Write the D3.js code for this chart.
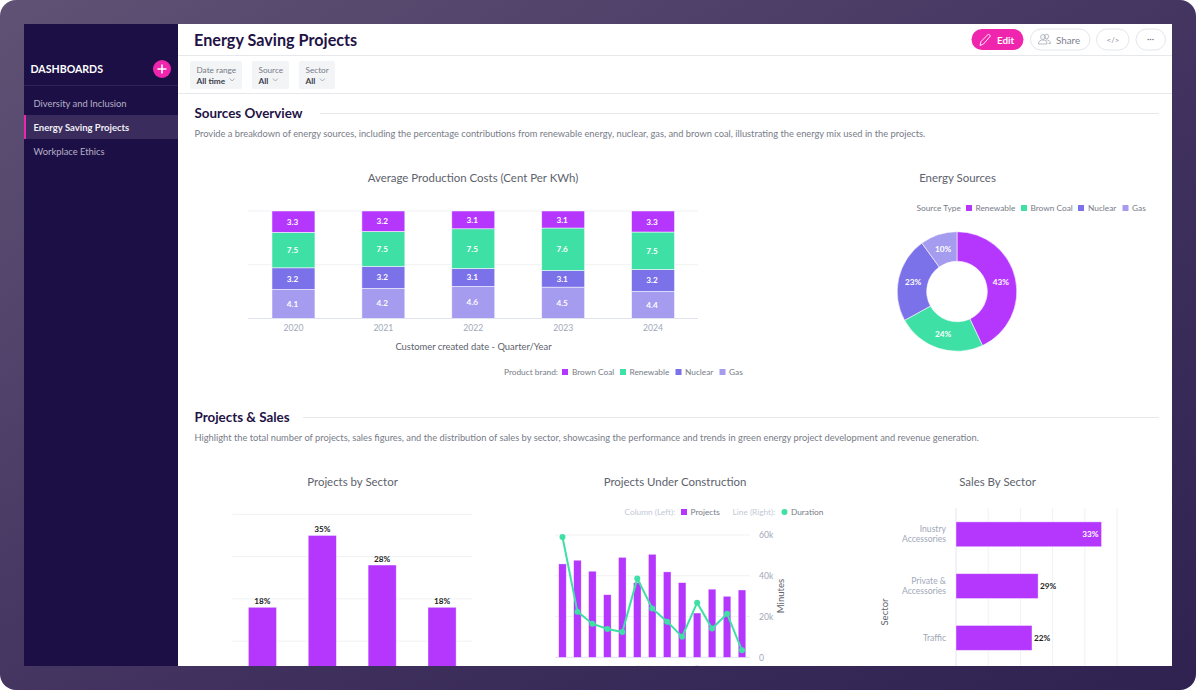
<!DOCTYPE html>
<html>
<head>
<meta charset="utf-8">
<title>Energy Saving Projects</title>
<script src="https://cdnjs.cloudflare.com/ajax/libs/d3/7.8.5/d3.min.js"></script>
<style>
html,body{margin:0;padding:0;background:#fff;}
svg{display:block;}
text{font-family:Lato,"Open Sans",sans-serif;}
</style>
</head>
<body>
<svg id="chart" width="1196" height="690"></svg>
<script>
// stacked costs: heights are share of the column, labels are what the segments print
var years = ['2020','2021','2022','2023','2024'];
var costKeys = ['gas','nuclear','renewable','brown'];
var gasShare = [26.9,28,29.8,29.1,25.1];
var nuclearShare = [20.1,20.5,16.7,15.5,20.4];
var renewableShare = [32.8,32.5,36.9,39.4,34.7];
var brownShare = [19.8,19,16.5,15.8,19.5];
var gasLabels = ['4.1','4.2','4.6','4.5','4.4'];
var nuclearLabels = ['3.2','3.2','3.1','3.1','3.2'];
var renewableLabels = ['7.5','7.5','7.5','7.6','7.5'];
var brownLabels = ['3.3','3.2','3.1','3.1','3.3'];

var sourceNames = ['Renewable','Brown Coal','Nuclear','Gas'];
var sourceValues = [43,24,23,10];

var sectorNames = ['A','B','C','D'];
var sectorValues = [18,35,28,18];
var sectorTicks = [10,20,30,40];

var buildIndex = ['1','2','3','4','5','6','7','8','9','10','11','12','13'];
var buildProjects = [45.8,47.6,42.2,30.7,49,36.6,50.5,41.9,36.6,21.7,33.4,29.9,33];
var buildDuration = [59,22.4,16.5,13.9,12.4,38.6,24,17.5,10.1,26.8,14.1,21.4,3.4];
var durationTicks = [0,20,40,60];

var salesNames = [['Inustry','Accessories'],['Private &','Accessories'],['Traffic']];
var salesValues = [45.2,25.5,23.6];
var salesLabels = ['33%','29%','22%'];
var salesTicks = [0,10,20,30,40,50];

var PURPLE = '#b537fe', GREEN = '#3ee0a5', NUCLEAR = '#7b71e8', GAS = '#a59bef';
var INK = '#1f1346', GREY = '#5d626d', SOFT = '#777c88', AXIS = '#a0a8b8';

var svg = d3.select('#chart');
var defs = svg.append('defs');

// frame
var grad = defs.append('linearGradient').attr('id','frame')
	.attr('x1','0').attr('y1','0').attr('x2','1').attr('y2','1');
grad.append('stop').attr('offset','0').attr('stop-color','#5f5274');
grad.append('stop').attr('offset','0.55').attr('stop-color','#41325f');
grad.append('stop').attr('offset','1').attr('stop-color','#2f2250');
svg.append('rect').attr('width',1196).attr('height',690).attr('rx',16).attr('fill','url(#frame)');

defs.append('clipPath').attr('id','panel').append('rect')
	.attr('x',178).attr('y',24).attr('width',994).attr('height',642);

// sidebar
svg.append('rect').attr('x',24).attr('y',24).attr('width',154).attr('height',642).attr('fill','#1c0f45');
svg.append('text').attr('x',30.5).attr('y',73).attr('fill','#fff').attr('font-size',10.6).attr('font-weight',700).text('DASHBOARDS');
svg.append('circle').attr('cx',162).attr('cy',69).attr('r',9).attr('fill','#f025ae');
svg.append('path').attr('d','M157.5 69H166.5M162 64.5V73.5').attr('stroke','#fff').attr('stroke-width',1.6);
svg.append('line').attr('x1',24).attr('x2',178).attr('y1',85.5).attr('y2',85.5).attr('stroke','#2f2357');
svg.append('rect').attr('x',24).attr('y',115).attr('width',154).attr('height',24).attr('fill','#3a2c5c');
svg.append('rect').attr('x',24).attr('y',115).attr('width',2).attr('height',24).attr('fill','#f025ae');
svg.append('text').attr('x',33.5).attr('y',107).attr('fill','#b5afc6').attr('font-size',9.4).text('Diversity and Inclusion');
svg.append('text').attr('x',33.5).attr('y',131).attr('fill','#f1eff6').attr('font-size',9.5).attr('font-weight',700).text('Energy Saving Projects');
svg.append('text').attr('x',33.5).attr('y',155).attr('fill','#b5afc6').attr('font-size',9.4).text('Workplace Ethics');

// main panel, everything below the card edge gets cut off
var main = svg.append('g').attr('clip-path','url(#panel)');
main.append('rect').attr('x',178).attr('y',24).attr('width',994).attr('height',642).attr('fill','#fff');
main.append('text').attr('x',194).attr('y',46).attr('fill',INK).attr('font-size',16.2).attr('font-weight',700).text('Energy Saving Projects');
main.append('line').attr('x1',178).attr('x2',1172).attr('y1',55.5).attr('y2',55.5).attr('stroke','#e6e8ec');
main.append('line').attr('x1',178).attr('x2',1172).attr('y1',93.5).attr('y2',93.5).attr('stroke','#e6e8ec');

// header buttons
main.append('rect').attr('x',971.5).attr('y',29).attr('width',52).attr('height',21).attr('rx',10.5).attr('fill','#f025ae');
main.append('path').attr('d','M980 45.5L981 41.5L988.5 34L990.5 36L983.5 44Z').attr('fill','none').attr('stroke','#fff').attr('stroke-width',0.9);
main.append('text').attr('x',997).attr('y',44).attr('fill','#fff').attr('font-size',9.8).attr('font-weight',700).text('Edit');
[[1030.5,59.5],[1096.5,32.5],[1136,29.5]].forEach(function(b){
	main.append('rect').attr('x',b[0]).attr('y',29).attr('width',b[1]).attr('height',21).attr('rx',10.5)
		.attr('fill','#fff').attr('stroke','#e3e6eb');
});
main.append('text').attr('x',1056).attr('y',44).attr('fill','#7d8290').attr('font-size',9.8).text('Share');
main.append('path').attr('d','M1038.5 44C1038.5 41 1040.5 40 1043 40C1045.5 40 1047 41 1047 44ZM1046 39.8C1048.5 40 1050.5 41 1050.5 43.5H1048.5').attr('fill','none').attr('stroke','#a4a9b5').attr('stroke-width',0.8);
main.append('circle').attr('cx',1043).attr('cy',37).attr('r',2.4).attr('fill','none').attr('stroke','#a4a9b5').attr('stroke-width',0.8);
main.append('circle').attr('cx',1046.5).attr('cy',36.5).attr('r',2.2).attr('fill','none').attr('stroke','#a4a9b5').attr('stroke-width',0.8);
main.append('text').attr('x',1113).attr('y',43).attr('text-anchor','middle').attr('fill','#8a8f9c').attr('font-size',8).text('</>');
main.append('text').attr('x',1150.5).attr('y',42).attr('text-anchor','middle').attr('fill','#6f7480').attr('font-size',9).text('···');

// filter chips
var chips = [['Date range','All time',190,52],['Source','All',252,37],['Sector','All',299,36]];
chips.forEach(function(c){
	main.append('rect').attr('x',c[2]).attr('y',61).attr('width',c[3]).attr('height',28).attr('rx',2).attr('fill','#f3f4f6');
	main.append('text').attr('x',c[2]+6.5).attr('y',73).attr('fill','#777c88').attr('font-size',8.2).text(c[0]);
	var t = main.append('text').attr('x',c[2]+6.5).attr('y',83.5).attr('fill','#3c3f4c').attr('font-size',8.3).attr('font-weight',700).text(c[1]);
	var w = t.node().getComputedTextLength();
	var cx = c[2]+6.5+w+7;
	main.append('path').attr('d','M'+(cx-2.5)+' 78.5L'+cx+' 81L'+(cx+2.5)+' 78.5').attr('fill','none').attr('stroke','#8a8f9c').attr('stroke-width',0.7);
});

// section heads
function sectionHead(title,desc,y,lineX){
	main.append('text').attr('x',194.5).attr('y',y+5).attr('fill',INK).attr('font-size',13.4).attr('font-weight',700).text(title);
	main.append('line').attr('x1',lineX).attr('x2',1159).attr('y1',y+.5).attr('y2',y+.5).attr('stroke','#e6e8ec');
	main.append('text').attr('x',194.5).attr('y',y+23.5).attr('fill',SOFT).attr('font-size',9.3).text(desc);
}
sectionHead('Sources Overview','Provide a breakdown of energy sources, including the percentage contributions from renewable energy, nuclear, gas, and brown coal, illustrating the energy mix used in the projects.',113,320);
sectionHead('Projects & Sales','Highlight the total number of projects, sales figures, and the distribution of sales by sector, showcasing the performance and trends in green energy project development and revenue generation.',417,303);

function chartTitle(s,x,y){
	main.append('text').attr('x',x).attr('y',y).attr('text-anchor','middle').attr('fill',GREY).attr('font-size',11.45).text(s);
}
chartTitle('Average Production Costs (Cent Per KWh)',473,182);
chartTitle('Energy Sources',957.5,182);
chartTitle('Projects by Sector',352.5,486);
chartTitle('Projects Under Construction',675,486);
chartTitle('Sales By Sector',997.5,486);

function legendText(s,x,y,col){
	main.append('text').attr('x',x).attr('y',y+3).attr('fill',col||SOFT).attr('font-size',8.3).text(s);
}
function swatch(x,y,col){
	main.append('rect').attr('x',x).attr('y',y-3).attr('width',6).attr('height',6).attr('fill',col);
}

// ---- stacked columns
var costRows = years.map(function(y,i){
	return {year:y,gas:gasShare[i],nuclear:nuclearShare[i],renewable:renewableShare[i],brown:brownShare[i]};
});
var costLabels = {gas:gasLabels,nuclear:nuclearLabels,renewable:renewableLabels,brown:brownLabels};
var costColors = {gas:GAS,nuclear:NUCLEAR,renewable:GREEN,brown:PURPLE};
var costX = d3.scaleBand().domain(years).range([248.5,698]).paddingInner(0.522).paddingOuter(0.261);
var costY = d3.scaleLinear().domain([0,100]).range([318.5,211]);
main.append('g').selectAll('line').data([50,100]).join('line')
	.attr('x1',248).attr('x2',698)
	.attr('y1',function(d){return costY(d);}).attr('y2',function(d){return costY(d);})
	.attr('stroke','#f0f1f4');
var stack = d3.stack().keys(costKeys).offset(d3.stackOffsetExpand)(costRows);
stack.forEach(function(layer){
	var g = main.append('g');
	layer.forEach(function(d,i){
		var y0 = costY(d[0]*100), y1 = costY(d[1]*100);
		g.append('rect').attr('x',costX(years[i])).attr('y',y1).attr('width',costX.bandwidth()).attr('height',y0-y1)
			.attr('fill',costColors[layer.key]).attr('stroke','#fff').attr('stroke-opacity',0.65).attr('stroke-width',0.8);
		g.append('text').attr('x',costX(years[i])+costX.bandwidth()/2-1).attr('y',(y0+y1)/2+3)
			.attr('text-anchor','middle').attr('fill','#fff').attr('font-size',8.2).attr('font-weight',700)
			.text(costLabels[layer.key][i]);
	});
});
var costAxis = main.append('g').attr('transform','translate(0,318.5)')
	.call(d3.axisBottom(costX).tickSize(0).tickPadding(6));
costAxis.select('.domain').attr('stroke','#dfe3f0').attr('d','M248,0H698');
costAxis.selectAll('text').attr('fill',AXIS).attr('font-size',8.6).attr('font-family','Lato');
main.append('text').attr('x',473.5).attr('y',349.5).attr('text-anchor','middle').attr('fill',GREY).attr('font-size',9.4).text('Customer created date - Quarter/Year');

legendText('Product brand:',504,372);
swatch(562,372,PURPLE); legendText('Brown Coal',572,372);
swatch(620,372,GREEN); legendText('Renewable',629.5,372);
swatch(675.5,372,NUCLEAR); legendText('Nuclear',685,372);
swatch(719.5,372,GAS); legendText('Gas',729,372);

// ---- donut
var donutColors = d3.scaleOrdinal().domain(sourceNames).range([PURPLE,GREEN,NUCLEAR,GAS]);
var pie = d3.pie().sort(null)(sourceValues);
var arc = d3.arc().innerRadius(30.3).outerRadius(59.8);
var labelArc = d3.arc().innerRadius(45).outerRadius(45);
var donut = main.append('g').attr('transform','translate(957,291.5)');
donut.selectAll('path').data(pie).join('path')
	.attr('d',arc)
	.attr('fill',function(d,i){return donutColors(sourceNames[i]);})
	.attr('stroke','#fff').attr('stroke-opacity',0.7).attr('stroke-width',0.8);
donut.selectAll('text').data(pie).join('text')
	.attr('transform',function(d){return 'translate('+labelArc.centroid(d)+')';})
	.attr('y',3).attr('text-anchor','middle').attr('fill','#fff').attr('font-size',8.2).attr('font-weight',700)
	.text(function(d){return d.value+'%';});

legendText('Source Type',916.5,208);
swatch(966,208,PURPLE); legendText('Renewable',975.5,208);
swatch(1021,208,GREEN); legendText('Brown Coal',1030.5,208);
swatch(1078,208,NUCLEAR); legendText('Nuclear',1088,208);
swatch(1122.5,208,GAS); legendText('Gas',1132,208);

// ---- projects by sector
var secX = d3.scaleBand().domain(sectorNames).range([232.5,472]).paddingInner(0.53).paddingOuter(0.265);
var secY = d3.scaleLinear().domain([0,40]).range([683.4,514.3]);
main.append('g').selectAll('line').data(sectorTicks).join('line')
	.attr('x1',232.5).attr('x2',472)
	.attr('y1',function(d){return secY(d);}).attr('y2',function(d){return secY(d);})
	.attr('stroke','#f0f1f4');
main.append('g').selectAll('rect').data(sectorValues).join('rect')
	.attr('x',function(d,i){return secX(sectorNames[i]);})
	.attr('y',function(d){return secY(d);})
	.attr('width',secX.bandwidth())
	.attr('height',function(d){return secY(0)-secY(d);})
	.attr('fill',PURPLE).attr('stroke','#fff').attr('stroke-opacity',0.5).attr('stroke-width',0.8);
main.append('g').selectAll('text').data(sectorValues).join('text')
	.attr('x',function(d,i){return secX(sectorNames[i])+secX.bandwidth()/2;})
	.attr('y',function(d){return secY(d)-3;})
	.attr('text-anchor','middle').attr('fill','#222').attr('font-size',8.2).attr('font-weight',700)
	.text(function(d){return d+'%';});

// ---- projects under construction
var buildX = d3.scaleBand().domain(buildIndex).range([555,749.5]).paddingInner(0.5).paddingOuter(0.25);
var buildY = d3.scaleLinear().domain([0,60]).range([657.3,535]);
main.append('g').selectAll('line').data(durationTicks).join('line')
	.attr('x1',555).attr('x2',750)
	.attr('y1',function(d){return buildY(d);}).attr('y2',function(d){return buildY(d);})
	.attr('stroke',function(d){return d==0?'#dfe3f0':'#f0f1f4';});
main.append('g').selectAll('rect').data(buildProjects).join('rect')
	.attr('x',function(d,i){return buildX(buildIndex[i]);})
	.attr('y',function(d){return buildY(d);})
	.attr('width',buildX.bandwidth())
	.attr('height',function(d){return buildY(0)-buildY(d);})
	.attr('fill',PURPLE).attr('stroke','#fff').attr('stroke-opacity',0.5).attr('stroke-width',0.6);
var durationLine = d3.line()
	.x(function(d,i){return buildX(buildIndex[i])+buildX.bandwidth()/2;})
	.y(function(d){return buildY(d);});
main.append('path').datum(buildDuration).attr('d',durationLine).attr('fill','none').attr('stroke',GREEN).attr('stroke-width',2);
main.append('g').selectAll('circle').data(buildDuration).join('circle')
	.attr('cx',function(d,i){return buildX(buildIndex[i])+buildX.bandwidth()/2;})
	.attr('cy',function(d){return buildY(d);})
	.attr('r',3).attr('fill',GREEN);
// tick labels hang below the card edge, only their tops show
var buildAxis = main.append('g').attr('transform','translate(0,657.3)')
	.call(d3.axisBottom(buildX).tickSize(0).tickPadding(0));
buildAxis.select('.domain').remove();
buildAxis.selectAll('text').attr('fill','#b9bfcb').attr('font-size',8).attr('font-family','Lato')
	.attr('text-anchor','end').attr('dy',0)
	.attr('transform','translate(3,8) rotate(-90)');
var rightAxis = main.append('g').attr('transform','translate(750,0)')
	.call(d3.axisRight(buildY).tickValues(durationTicks).tickSize(0).tickPadding(9)
		.tickFormat(function(d){return d==0?'0':d+'k';}));
rightAxis.select('.domain').remove();
rightAxis.selectAll('text').attr('fill',AXIS).attr('font-size',8.6).attr('font-family','Lato');
main.append('text').attr('transform','translate(784,596) rotate(-90)').attr('text-anchor','middle').attr('fill',GREY).attr('font-size',9.6).text('Minutes');

legendText('Column (Left):',624.5,512,'#c3c9d6');
swatch(681,512,PURPLE); legendText('Projects',690.5,512);
legendText('Line (Right):',732.5,512,'#c3c9d6');
main.append('circle').attr('cx',784.5).attr('cy',512).attr('r',3).attr('fill',GREEN);
legendText('Duration',791,512);

// ---- sales by sector
var salesKeys = salesNames.map(function(d){return d.join(' ');});
var salesX = d3.scaleLinear().domain([0,50]).range([956,1117]);
var salesY = d3.scaleBand().domain(salesKeys).range([508.4,663.8]).paddingInner(0.52).paddingOuter(0.26);
main.append('g').selectAll('line').data(salesTicks).join('line')
	.attr('x1',function(d){return salesX(d);}).attr('x2',function(d){return salesX(d);})
	.attr('y1',508).attr('y2',690)
	.attr('stroke',function(d){return d==0?'#e3e6f2':'#f0f1f4';});
main.append('g').selectAll('rect').data(salesValues).join('rect')
	.attr('x',salesX(0))
	.attr('y',function(d,i){return salesY(salesKeys[i]);})
	.attr('width',function(d){return salesX(d)-salesX(0);})
	.attr('height',salesY.bandwidth())
	.attr('fill',PURPLE).attr('stroke','#fff').attr('stroke-opacity',0.5).attr('stroke-width',0.8);
salesValues.forEach(function(d,i){
	var inside = i==0;
	main.append('text')
		.attr('x',inside ? salesX(d)-3 : salesX(d)+2)
		.attr('y',salesY(salesKeys[i])+salesY.bandwidth()/2+3)
		.attr('text-anchor',inside?'end':'start')
		.attr('fill',inside?'#fff':'#222').attr('font-size',8.2).attr('font-weight',700)
		.text(salesLabels[i]);
	var label = main.append('text').attr('text-anchor','end').attr('fill',AXIS).attr('font-size',8.6);
	var lines = salesNames[i];
	lines.forEach(function(s,k){
		label.append('tspan').attr('x',946)
			.attr('y',salesY(salesKeys[i])+salesY.bandwidth()/2+3+(k-(lines.length-1)/2)*10)
			.text(s);
	});
});
main.append('text').attr('transform','translate(888,612) rotate(-90)').attr('text-anchor','middle').attr('fill',GREY).attr('font-size',9.6).text('Sector');
</script>
</body>
</html>
